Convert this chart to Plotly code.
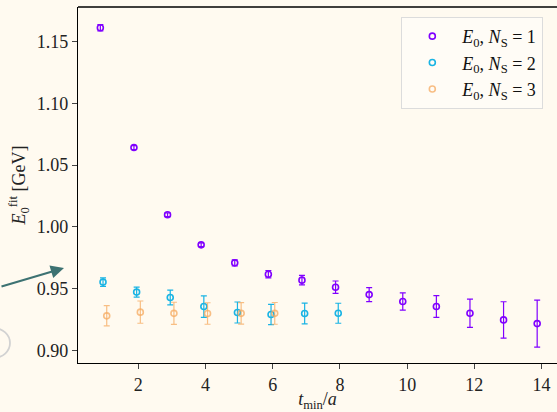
import plotly.graph_objects as go

# ---- data ----
t1 = [1, 2, 3, 4, 5, 6, 7, 8, 9, 10, 11, 12, 13, 14]
e1 = [1.1613, 1.0643, 1.0098, 0.9855, 0.9709, 0.9617, 0.9569, 0.9512, 0.9452, 0.9396, 0.9355, 0.9301, 0.9247, 0.9217]
d1 = [0.0025, 0.0016, 0.0015, 0.0015, 0.0025, 0.003, 0.0038, 0.005, 0.0057, 0.007, 0.0088, 0.0114, 0.0147, 0.019]

t2 = [1, 2, 3, 4, 5, 6, 7, 8]
e2 = [0.9553, 0.9472, 0.9428, 0.9355, 0.9307, 0.9291, 0.9299, 0.9301]
d2 = [0.0034, 0.004, 0.006, 0.0087, 0.0085, 0.0082, 0.0084, 0.0081]

t3 = [1, 2, 3, 4, 5, 6]
e3 = [0.928, 0.931, 0.930, 0.9299, 0.930, 0.930]
d3 = [0.0082, 0.009, 0.009, 0.0087, 0.0087, 0.0088]

labels = ["<i>E</i><sub>0</sub>, <i>N</i><sub>S</sub> = 1",
          "<i>E</i><sub>0</sub>, <i>N</i><sub>S</sub> = 2",
          "<i>E</i><sub>0</sub>, <i>N</i><sub>S</sub> = 3"]
offsets = [-0.13, -0.05, 0.06]
colors = ["#8000ff", "#1ab4e4", "rgba(246,170,95,0.75)"]

FONT = "Times New Roman, Liberation Serif, DejaVu Serif, serif"
BG = "#fffaf0"

fig = go.Figure()
for t, e, d, lab, off, col in zip([t1, t2, t3], [e1, e2, e3], [d1, d2, d3], labels, offsets, colors):
    fig.add_trace(go.Scatter(
        x=[v + off for v in t], y=e, mode="markers", name=lab,
        marker=dict(symbol="circle-open", size=6, color=col, line=dict(width=1.6, color=col)),
        error_y=dict(type="data", array=d, visible=True, color=col, thickness=1.2, width=3),
    ))

fig.update_layout(
    width=557, height=412,
    margin=dict(l=78, r=0, t=7, b=49),
    paper_bgcolor=BG, plot_bgcolor=BG,
    font=dict(family=FONT, size=18, color="#222"),
    showlegend=True,
    legend=dict(x=0.675, y=0.972, xanchor="left", yanchor="top",
                bgcolor="rgba(255,252,246,0.9)", bordercolor="#dcdcdc", borderwidth=1,
                font=dict(family=FONT, size=18, color="#111"),
                itemwidth=50, tracegroupgap=0),
    xaxis=dict(range=[0.205, 14.46], tickvals=[2, 4, 6, 8, 10, 12, 14],
               showgrid=False, zeroline=False, showline=True, linecolor="black", linewidth=1.3,
               ticks="outside", ticklen=5, tickwidth=1, tickcolor="#444",
               tickfont=dict(family=FONT, size=18, color="#222"),
               title=dict(text="<i>t</i><sub>min</sub>/<i>a</i>", standoff=4,
                          font=dict(family=FONT, size=18))),
    yaxis=dict(range=[0.8898, 1.1781], tickvals=[0.90, 0.95, 1.00, 1.05, 1.10, 1.15],
               tickformat=".2f",
               showgrid=False, zeroline=False, showline=True, linecolor="black", linewidth=1.3,
               ticks="outside", ticklen=5, tickwidth=1, tickcolor="#444",
               tickfont=dict(family=FONT, size=18, color="#222"),
               title=dict(text="<i>E</i><sub>0</sub><sup>fit</sup> [GeV]", standoff=6,
                          font=dict(family=FONT, size=18))),
)

# top spine
fig.add_shape(type="line", xref="paper", yref="paper", x0=0, x1=1, y0=1, y1=1,
              line=dict(color="black", width=1.3))

H = 412 - 7 - 49
W = 557 - 78
def px_to_paper(px, py):
    return (px - 78) / W, (412 - 49 - py) / H

# partial circle at lower left (outside plot area)
cx0, cy0 = px_to_paper(-23, 328)
cx1, cy1 = px_to_paper(10, 358)
fig.add_shape(type="circle", xref="paper", yref="paper", x0=cx0, y0=cy0, x1=cx1, y1=cy1,
              line=dict(color="#d2d2d2", width=1.8))

# arrow pointing into the plot
hx, hy = px_to_paper(64, 268)
fig.add_annotation(x=hx, y=hy, xref="paper", yref="paper",
                   axref="pixel", ayref="pixel", ax=-66, ay=19, text="", showarrow=True,
                   arrowhead=2, arrowsize=1.2, arrowwidth=2.2, arrowcolor="#3d7272")

fig.write_html("out.html")
